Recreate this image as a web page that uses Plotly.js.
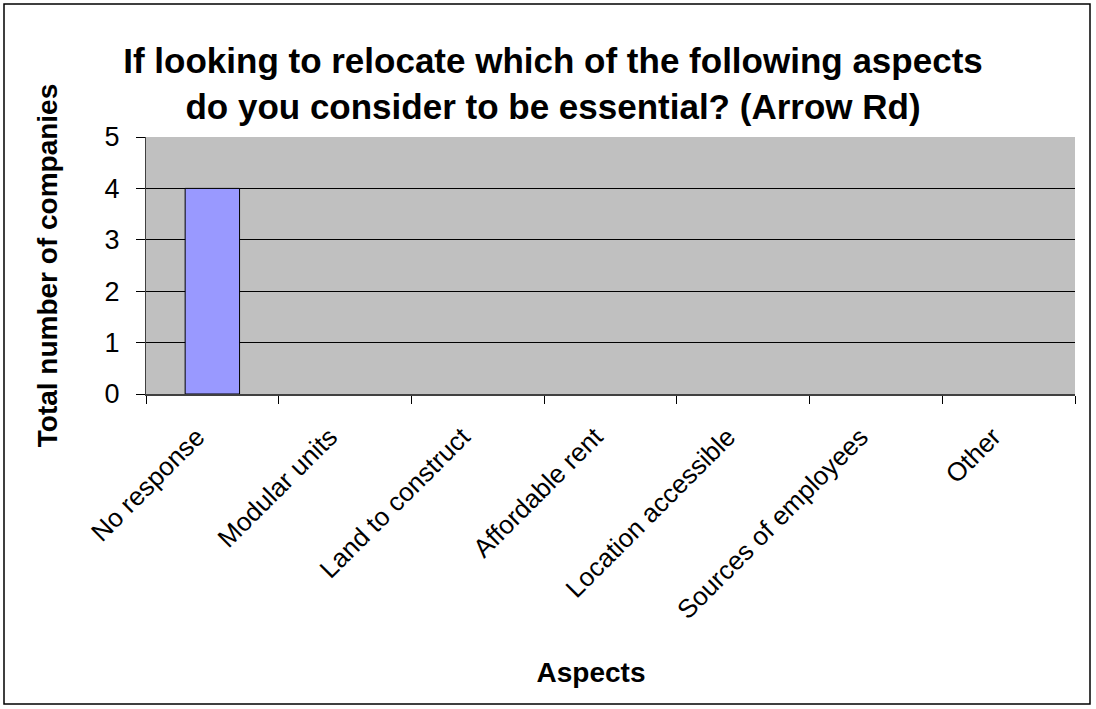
<!DOCTYPE html>
<html>
<head>
<meta charset="utf-8">
<script src="https://cdn.plot.ly/plotly-3.0.1.min.js"></script>
<style>
html,body{margin:0;padding:0;background:#fff;}
#chart{width:1096px;height:709px;}
</style>
</head>
<body>
<div id="chart"></div>
<script>
const categories = ["No response", "Modular units", "Land to construct", "Affordable rent", "Location accessible", "Sources of employees", "Other"];
const values = [4, 0, 0, 0, 0, 0, 0];
const yTicks = [0, 1, 2, 3, 4, 5];

const W = 1096, H = 709;
const mL = 146, mR = 21, mT = 137, mB = 315;
const pw = W - mL - mR, ph = H - mT - mB;
const px = x => (x - mL) / pw;
const py = y => (H - mB - y) / ph;
const pad = "\u00a0\u00a0\u00a0";

const trace = {
  type: "bar",
  x: categories,
  y: values,
  marker: {color: "#9999FF", line: {color: "#000000", width: values.map(v => v > 0 ? 1 : 0)}},
  hoverinfo: "x+y"
};

const layout = {
  width: W, height: H,
  margin: {l: mL, r: mR, t: mT, b: mB},
  paper_bgcolor: "#ffffff",
  plot_bgcolor: "#C0C0C0",
  font: {family: "Liberation Sans, Arial, sans-serif", color: "#000"},
  showlegend: false,
  bargap: 0.59,
  title: {
    text: "<b>If looking to relocate which of the following aspects<br>do you consider to be essential? (Arrow Rd)</b>",
    font: {size: 35, color: "#000"},
    x: px(553), xref: "paper", xanchor: "center",
    y: 0.897, yref: "container", yanchor: "middle"
  },
  xaxis: {
    type: "category",
    tickangle: -45,
    tickson: "boundaries",
    tickvals: categories,
    ticktext: categories.map(c => c + pad),
    ticks: "outside", ticklen: 8, tickcolor: "#000", tickwidth: 1,
    showline: true, linecolor: "#404040", linewidth: 2,
    showgrid: false,
    ticklabelstandoff: 0,
    tickfont: {size: 26, color: "#000"},
    title: {text: "<b>Aspects\u00a0\u00a0\u00a0\u00a0\u00a0</b>", font: {size: 28, color: "#000"}, standoff: 39},
    automargin: false
  },
  yaxis: {
    range: [0, 5],
    tickvals: yTicks,
    ticks: "outside", ticklen: 9, tickcolor: "#000", tickwidth: 1,
    showline: true, linecolor: "#404040", linewidth: 1,
    showgrid: true, gridcolor: "#000000", gridwidth: 1,
    zeroline: false,
    ticklabelstandoff: 11,
    tickfont: {size: 27, color: "#000"},
    title: {text: "<b>Total number of companies</b>", font: {size: 28, color: "#000"}, standoff: 38},
    automargin: false
  },
  shapes: [{
    type: "rect", xref: "paper", yref: "paper",
    x0: px(4), x1: px(1090), y0: py(704), y1: py(4),
    line: {color: "#000", width: 1.5}, fillcolor: "rgba(0,0,0,0)", layer: "above"
  }]
};

Plotly.newPlot("chart", [trace], layout, {displayModeBar: false, staticPlot: true});
</script>
</body>
</html>
